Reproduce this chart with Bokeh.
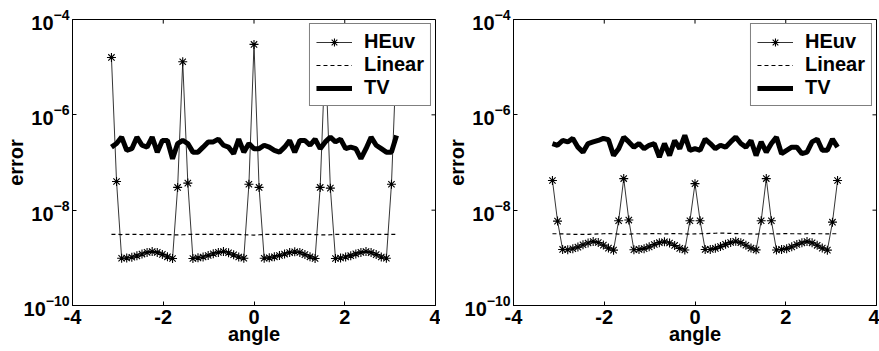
import numpy as np
from bokeh.plotting import figure
from bokeh.models import Range1d, FixedTicker, Legend, CustomJSTickFormatter
from bokeh.layouts import row
from bokeh.embed import file_html
from bokeh.resources import INLINE

# sample angles (-pi .. pi)
angle = np.linspace(-np.pi, np.pi, 57)

x_ticks = [-4, -2, 0, 2, 4]
y_ticks = [1e-10, 1e-8, 1e-6, 1e-4]

heuv_left = [1.6e-5, 4.0e-8, 0.98e-9, 0.99e-9, 1.03e-9, 1.10e-9, 1.20e-9, 1.30e-9, 1.35e-9, 1.30e-9,
             1.18e-9, 1.05e-9, 0.97e-9, 3.0e-8, 1.3e-5, 3.7e-8, 0.97e-9, 1.00e-9, 1.04e-9, 1.12e-9,
             1.22e-9, 1.30e-9, 1.36e-9, 1.28e-9, 1.16e-9, 1.04e-9, 0.98e-9, 3.5e-8, 3.0e-5, 3.0e-8,
             0.98e-9, 1.00e-9, 1.05e-9, 1.12e-9, 1.20e-9, 1.29e-9, 1.34e-9, 1.30e-9, 1.17e-9, 1.05e-9,
             0.97e-9, 3.0e-8, 2.0e-5, 2.9e-8, 0.97e-9, 0.99e-9, 1.04e-9, 1.11e-9, 1.21e-9, 1.30e-9,
             1.36e-9, 1.29e-9, 1.17e-9, 1.04e-9, 0.98e-9, 3.5e-8, 2.0e-5]

linear_left = [3.10e-9, 3.10e-9, 3.08e-9, 3.10e-9, 3.12e-9, 3.10e-9, 3.08e-9, 3.10e-9, 3.12e-9, 3.10e-9,
               3.10e-9, 3.08e-9, 3.05e-9, 3.02e-9, 3.05e-9, 3.10e-9, 3.12e-9, 3.10e-9, 3.10e-9, 3.12e-9,
               3.10e-9, 3.08e-9, 3.10e-9, 3.10e-9, 3.12e-9, 3.10e-9, 3.05e-9, 3.02e-9, 3.00e-9, 3.05e-9,
               3.10e-9, 3.10e-9, 3.12e-9, 3.10e-9, 3.10e-9, 3.12e-9, 3.10e-9, 3.10e-9, 3.12e-9, 3.10e-9,
               3.08e-9, 3.05e-9, 3.02e-9, 3.05e-9, 3.10e-9, 3.10e-9, 3.12e-9, 3.10e-9, 3.10e-9, 3.12e-9,
               3.10e-9, 3.10e-9, 3.12e-9, 3.10e-9, 3.10e-9, 3.10e-9, 3.10e-9]

tv_left = [2.1e-7, 2.5e-7, 3.4e-7, 1.8e-7, 1.95e-7, 3.4e-7, 2.3e-7, 2.1e-7, 3.4e-7, 1.65e-7,
           2.9e-7, 2.9e-7, 1.2e-7, 2.5e-7, 2.9e-7, 2.5e-7, 1.65e-7, 1.65e-7, 2.1e-7, 2.7e-7,
           2.7e-7, 3.1e-7, 2.3e-7, 2.1e-7, 1.53e-7, 3.1e-7, 1.65e-7, 2.5e-7, 1.95e-7, 1.95e-7,
           2.3e-7, 2.1e-7, 1.8e-7, 1.65e-7, 2.1e-7, 2.9e-7, 1.65e-7, 2.9e-7, 2.9e-7, 2.3e-7,
           3.1e-7, 1.95e-7, 2.7e-7, 3.4e-7, 2.7e-7, 3.1e-7, 1.95e-7, 2.1e-7, 1.95e-7, 1.2e-7,
           1.95e-7, 3.4e-7, 2.3e-7, 1.95e-7, 1.65e-7, 1.65e-7, 3.7e-7]

heuv_right = [4.2e-8, 5.9e-9, 1.50e-9, 1.48e-9, 1.55e-9, 1.68e-9, 1.88e-9, 2.05e-9, 2.20e-9, 2.10e-9,
              1.85e-9, 1.60e-9, 1.45e-9, 6.0e-9, 4.6e-8, 6.2e-9, 1.48e-9, 1.50e-9, 1.56e-9, 1.70e-9,
              1.90e-9, 2.08e-9, 2.18e-9, 2.05e-9, 1.82e-9, 1.58e-9, 1.46e-9, 6.0e-9, 3.6e-8, 6.0e-9,
              1.50e-9, 1.50e-9, 1.58e-9, 1.72e-9, 1.92e-9, 2.10e-9, 2.22e-9, 2.08e-9, 1.84e-9, 1.60e-9,
              1.47e-9, 6.0e-9, 4.6e-8, 6.0e-9, 1.46e-9, 1.50e-9, 1.56e-9, 1.70e-9, 1.90e-9, 2.06e-9,
              2.20e-9, 2.06e-9, 1.83e-9, 1.60e-9, 1.45e-9, 5.6e-9, 4.2e-8]

linear_right = [3.20e-9, 3.20e-9, 3.18e-9, 3.15e-9, 3.12e-9, 3.10e-9, 3.10e-9, 3.12e-9, 3.15e-9, 3.18e-9,
                3.20e-9, 3.22e-9, 3.20e-9, 3.15e-9, 3.10e-9, 3.15e-9, 3.20e-9, 3.20e-9, 3.18e-9, 3.20e-9,
                3.22e-9, 3.20e-9, 3.18e-9, 3.20e-9, 3.22e-9, 3.20e-9, 3.18e-9, 3.15e-9, 3.18e-9, 3.20e-9,
                3.22e-9, 3.25e-9, 3.28e-9, 3.30e-9, 3.28e-9, 3.25e-9, 3.22e-9, 3.20e-9, 3.20e-9, 3.18e-9,
                3.15e-9, 3.18e-9, 3.20e-9, 3.20e-9, 3.18e-9, 3.20e-9, 3.22e-9, 3.20e-9, 3.20e-9, 3.18e-9,
                3.20e-9, 3.22e-9, 3.20e-9, 3.20e-9, 3.18e-9, 3.20e-9, 3.20e-9]

tv_right = [2.5e-7, 2.3e-7, 2.9e-7, 2.7e-7, 3.2e-7, 2.1e-7, 1.65e-7, 2.5e-7, 2.7e-7, 2.9e-7,
            3.2e-7, 3.0e-7, 1.4e-7, 1.95e-7, 3.4e-7, 2.7e-7, 2.1e-7, 2.5e-7, 1.95e-7, 2.3e-7,
            2.5e-7, 1.3e-7, 2.5e-7, 1.4e-7, 2.9e-7, 1.95e-7, 3.7e-7, 1.8e-7, 1.95e-7, 1.8e-7,
            3.1e-7, 2.5e-7, 1.95e-7, 2.3e-7, 2.1e-7, 2.7e-7, 3.4e-7, 2.5e-7, 2.1e-7, 2.9e-7,
            1.4e-7, 2.7e-7, 1.65e-7, 2.5e-7, 3.4e-7, 1.53e-7, 1.8e-7, 2.1e-7, 2.1e-7, 1.53e-7,
            1.65e-7, 2.7e-7, 3.1e-7, 1.8e-7, 1.8e-7, 3.1e-7, 2.1e-7]

FONT = "Liberation Sans"
FS = "20px"
X0, X1 = -4, 4
Y0, Y1 = 1e-10, 1e-4


def make_panel(heuv, linear, tv, width, bl, br):
    p = figure(width=width, height=351, x_range=Range1d(X0, X1),
               y_range=Range1d(Y0, Y1), y_axis_type="log",
               output_backend="svg", toolbar_location=None,
               min_border_left=bl, min_border_right=br,
               min_border_top=19, min_border_bottom=46)
    p.grid.visible = False
    p.background_fill_color = "white"
    p.border_fill_color = "white"
    p.outline_line_color = "black"
    p.outline_line_width = 1

    # inward ticks on the top and right edges of the box
    p.segment(x0=x_ticks, y0=[Y1] * len(x_ticks), x1=x_ticks, y1=[Y1 * 0.82] * len(x_ticks),
              line_color="black", line_width=1)
    p.segment(x0=[X1] * len(y_ticks), y0=y_ticks, x1=[X1 - 0.088] * len(y_ticks), y1=y_ticks,
              line_color="black", line_width=1)

    r1 = p.line(angle, heuv, line_color="black", line_width=0.8)
    r2 = p.scatter(angle, heuv, marker="asterisk", size=9, line_color="black", line_width=1.1)
    r3 = p.line(angle, linear, line_color="black", line_width=1.2, line_dash="4 3")
    r4 = p.line(angle, tv, line_color="black", line_width=5)

    p.xaxis.ticker = FixedTicker(ticks=x_ticks)
    p.xaxis.formatter = CustomJSTickFormatter(code="return tick.toString();")
    p.yaxis.ticker = FixedTicker(ticks=y_ticks)
    p.xaxis.axis_label = "angle"
    p.yaxis.axis_label = "error"
    for ax in (p.xaxis[0], p.yaxis[0]):
        ax.major_label_text_font = FONT
        ax.major_label_text_font_size = FS
        ax.major_label_text_font_style = "bold"
        ax.major_label_text_color = "black"
        ax.axis_label_text_font = FONT
        ax.axis_label_text_font_size = FS
        ax.axis_label_text_font_style = "bold"
        ax.axis_label_text_color = "black"
        ax.major_tick_in = 4
        ax.major_tick_out = 0
        ax.minor_tick_in = 0
        ax.minor_tick_out = 0
        ax.axis_line_color = "black"
        ax.major_tick_line_color = "black"
    p.xaxis.major_label_standoff = 4
    p.xaxis.axis_label_standoff = -4
    p.yaxis.major_label_standoff = 3
    p.yaxis.axis_label_standoff = -6

    legend = Legend(items=[("HEuv", [r1, r2]), ("Linear", [r3]), ("TV", [r4])],
                    location="top_right", margin=4, padding=6, spacing=0,
                    glyph_width=36, glyph_height=20, label_standoff=12,
                    label_height=20,
                    label_text_font=FONT, label_text_font_size=FS,
                    label_text_font_style="bold", label_text_color="black",
                    border_line_color="black", border_line_width=1,
                    background_fill_color="white", background_fill_alpha=1.0)
    p.add_layout(legend)
    return p


p1 = make_panel(heuv_left, linear_left, tv_left, 440, 72, 5)
p2 = make_panel(heuv_right, linear_right, tv_right, 439, 73, 3)

layout = row(p1, p2)
open("out.html", "w").write(file_html(layout, INLINE))
